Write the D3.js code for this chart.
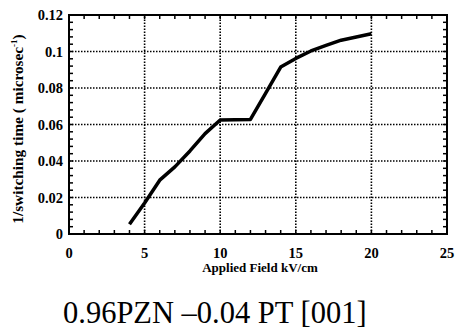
<!DOCTYPE html>
<html lang="en">
<head>
<meta charset="UTF-8" />
<title>switching rate vs applied field</title>
<script src="https://d3js.org/d3.v7.min.js"></script>
<style>
  body { margin: 0; background: #fff; }
  text { font-family: "Liberation Serif", "Times New Roman", serif; }
</style>
</head>
<body>
<script type="text/javascript">

// data
var field = [4, 5, 6, 7, 8, 9, 10, 12, 13, 14, 15, 16, 17, 18, 20];
var rate = [0.0053, 0.017, 0.0295, 0.0368, 0.0455, 0.055, 0.0625, 0.0628, 0.077, 0.0915, 0.0962, 0.1003, 0.1033, 0.1062, 0.1097];
var xTicks = [0, 5, 10, 15, 20, 25];
var yTicks = [0, 0.02, 0.04, 0.06, 0.08, 0.1, 0.12];
var yTickLabels = ["0", "0.02", "0.04", "0.06", "0.08", "0.1", "0.12"];
var xTitle = "Applied Field kV/cm";
var yTitle = "1/switching time ( microsec";
var caption = "0.96PZN \u20130.04 PT [001]";

var W = 460, H = 332;
var margin = {top: 15, right: 13, bottom: 98, left: 69};

var svg = d3.select("body").append("svg")
  .attr("width", W)
  .attr("height", H);

var x = d3.scaleLinear().domain([0, 25]).range([margin.left, W - margin.right]);
var y = d3.scaleLinear().domain([0, 0.12]).range([H - margin.bottom, margin.top]);

var g = svg.append("g");

// dotted grid
g.selectAll(".gx").data(xTicks.slice(1, -1)).enter().append("line")
  .attr("x1", function(d) { return x(d); }).attr("x2", function(d) { return x(d); })
  .attr("y1", y(0)).attr("y2", y(0.12))
  .attr("stroke", "#000").attr("stroke-width", 1.6).attr("stroke-dasharray", "1.5,1.5");
g.selectAll(".gy").data(yTicks.slice(1, -1)).enter().append("line")
  .attr("x1", x(0)).attr("x2", x(25))
  .attr("y1", function(d) { return y(d); }).attr("y2", function(d) { return y(d); })
  .attr("stroke", "#000").attr("stroke-width", 1.6).attr("stroke-dasharray", "1.5,1.5");

// minor ticks, pointing inward on all four sides
var xMinor = d3.range(1, 25);
var yMinor = d3.range(1, 30).map(function(i) { return i * 0.004; });
g.selectAll(".mxb").data(xMinor).enter().append("line")
  .attr("x1", function(d) { return x(d); }).attr("x2", function(d) { return x(d); })
  .attr("y1", y(0)).attr("y2", y(0) - 4)
  .attr("stroke", "#000").attr("stroke-width", 1.5);
g.selectAll(".mxt").data(xMinor).enter().append("line")
  .attr("x1", function(d) { return x(d); }).attr("x2", function(d) { return x(d); })
  .attr("y1", y(0.12)).attr("y2", y(0.12) + 4)
  .attr("stroke", "#000").attr("stroke-width", 1.5);
g.selectAll(".myl").data(yMinor).enter().append("line")
  .attr("x1", x(0)).attr("x2", x(0) + 4)
  .attr("y1", function(d) { return y(d); }).attr("y2", function(d) { return y(d); })
  .attr("stroke", "#000").attr("stroke-width", 1.5);
g.selectAll(".myr").data(yMinor).enter().append("line")
  .attr("x1", x(25)).attr("x2", x(25) - 4)
  .attr("y1", function(d) { return y(d); }).attr("y2", function(d) { return y(d); })
  .attr("stroke", "#000").attr("stroke-width", 1.5);

// frame
g.append("rect")
  .attr("x", x(0)).attr("y", y(0.12))
  .attr("width", x(25) - x(0)).attr("height", y(0) - y(0.12))
  .attr("fill", "none").attr("stroke", "#000").attr("stroke-width", 2);

// tick labels
svg.selectAll(".xl").data(xTicks).enter().append("text")
  .attr("x", function(d) { return x(d); })
  .attr("y", 258)
  .attr("text-anchor", "middle")
  .attr("font-size", 14.5).attr("font-weight", "bold")
  .text(function(d) { return d; });
svg.selectAll(".yl").data(yTicks).enter().append("text")
  .attr("x", x(0) - 6)
  .attr("y", function(d) { return y(d) + 5; })
  .attr("text-anchor", "end")
  .attr("font-size", 14.5).attr("font-weight", "bold")
  .text(function(d, i) { return yTickLabels[i]; });

// axis titles
svg.append("text")
  .attr("x", 260).attr("y", 272)
  .attr("text-anchor", "middle")
  .attr("font-size", 13).attr("font-weight", "bold")
  .text(xTitle);

var yt = svg.append("text")
  .attr("transform", "translate(23,129) rotate(-90)")
  .attr("text-anchor", "middle")
  .attr("font-size", 15.3).attr("font-weight", "bold");
yt.append("tspan").text(yTitle);
yt.append("tspan").attr("font-size", 9).attr("dy", -6).text("-1");
yt.append("tspan").attr("dy", 6).text(")");

// data line
var line = d3.line()
  .x(function(d) { return x(d[0]); })
  .y(function(d) { return y(d[1]); });
g.append("path")
  .datum(d3.zip(field, rate))
  .attr("d", line)
  .attr("fill", "none")
  .attr("stroke", "#000")
  .attr("stroke-width", 3.5)
  .attr("stroke-linejoin", "round");

// caption
svg.append("text")
  .attr("x", 63).attr("y", 323)
  .attr("font-size", 30.5)
  .text(caption);

</script>
</body>
</html>
